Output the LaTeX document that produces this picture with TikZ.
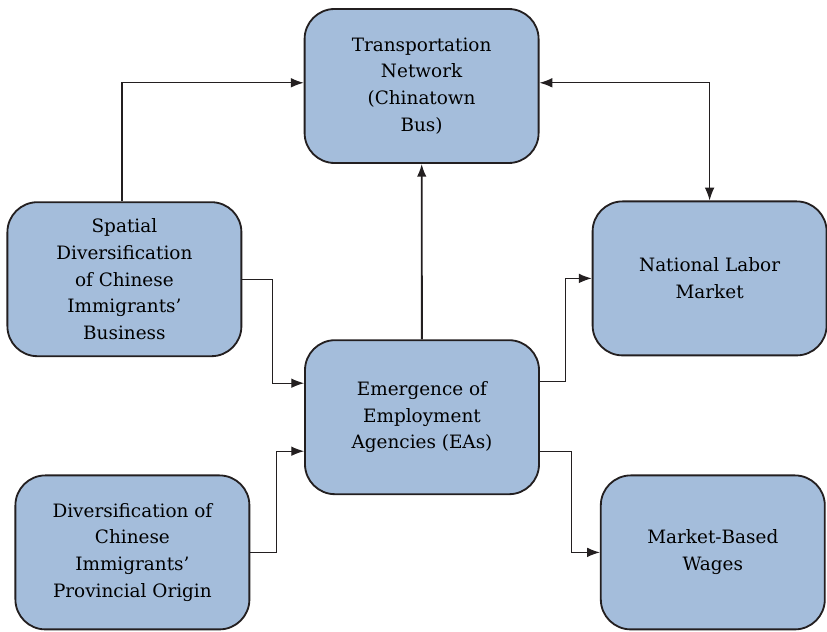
\documentclass[tikz,border=0pt]{standalone}
\usepackage{fontspec}
\setmainfont{DejaVu Serif}
\usepackage{tikz}
\usetikzlibrary{arrows.meta}
\definecolor{boxblue}{RGB}{164,189,219}
\definecolor{boxline}{RGB}{35,31,32}

\begin{document}
\begin{tikzpicture}[
	box/.style = { draw = boxline , fill = boxblue , line width = 1.3pt ,
		rounded corners = 0.75cm , align = center ,
		minimum width = 5.85cm , minimum height = 3.85cm ,
		font = \fontsize{13.1}{19}\selectfont } ,
	link/.style = { draw = boxline , line width = 0.8pt } ,
	>={Latex[length=3.2mm,width=2.4mm]}
	]
	\useasboundingbox (0,0) rectangle (20.675,-15.8);
	\node [box] (1) at (10.54,-2.15) 
		{ Transportation\\Network\\(Chinatown\\Bus) };
	\node [box] (2) at (3.11,-6.98) 
		{ Spatial\\Diversification\\of Chinese\\Immigrants’\\Business };
	\node [box] (3) at (17.74,-6.96) 
		{ National Labor\\Market };
	\node [box] (4) at (10.55,-10.43) 
		{ Emergence of\\Employment\\Agencies (EAs) };
	\node [box] (5) at (3.31,-13.81) 
		{ Diversification of\\Chinese\\Immigrants’\\Provincial Origin };
	\node [box , minimum width = 5.6cm] (6) at (17.82,-13.81) 
		{ Market-Based\\Wages };
	\draw [ link , -> ] ([xshift=-0.06cm]2.north) -- 
		([xshift=-0.06cm,yshift=0.08cm]2.north |- 1.west) -- 
		([yshift=0.08cm]1.west);
	\draw [ link , <-> ] ([yshift=0.08cm]1.east) -| 
		(3.north);
	\draw [ link , -> , line width = 1.3pt ] (4) to 
		(1);
	\draw [ link , -> ] (2.east) -- ++(0.75,0) |- 
		([yshift=0.85cm]4.west);
	\draw [ link , -> ] (5.east) -- ++(0.65,0) |- 
		([yshift=-0.85cm]4.west);
	\draw [ link , -> ] ([yshift=0.9cm]4.east) -- ++(0.63,0) |- 
		(3.west);
	\draw [ link , -> ] ([yshift=-0.85cm]4.east) -- ++(0.78,0) |- 
		(6.west);
\end{tikzpicture}
\end{document}
